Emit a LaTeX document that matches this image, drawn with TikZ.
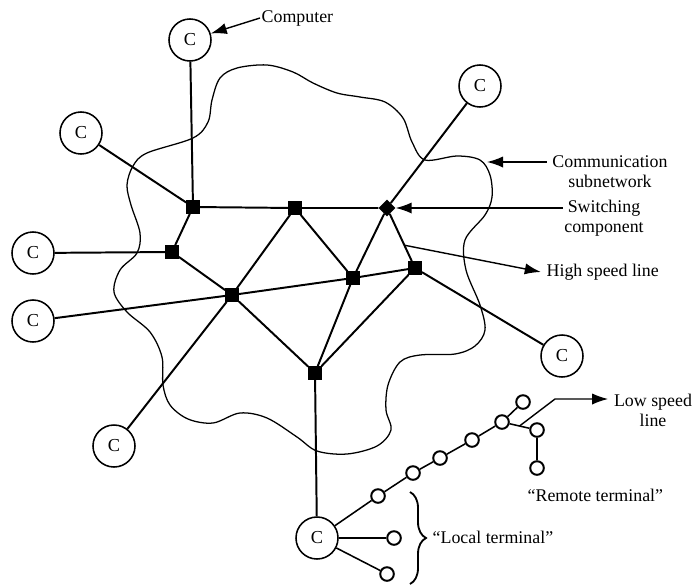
\documentclass[tikz,border=0pt]{standalone}
\usepackage{fontspec}
\setmainfont{Liberation Serif}
\usetikzlibrary{arrows.meta,shapes.geometric,calc,decorations.pathreplacing}
\tikzset{
  comp/.style={circle, draw, line width=1.1pt, minimum size=1.05cm, inner sep=0pt, fill=white, font=\fontsize{13}{15}\selectfont},
  switch/.style={rectangle, fill=black, minimum size=0.33cm, inner sep=0pt},
  switchd/.style={diamond, fill=black, minimum size=0.42cm, inner sep=0pt},
  term/.style={circle, draw, line width=1.4pt, minimum size=0.34cm, inner sep=0pt, fill=white},
  link/.style={line width=1.4pt},
  tlink/.style={line width=1.1pt},
  cloudline/.style={line width=0.9pt},
  lbl/.style={font=\fontsize{12.7}{14.2}\selectfont, align=center, inner sep=1pt},
  arrow/.style={line width=1pt, -{Latex[length=4mm,width=2.8mm]}},
}

\begin{document}
\begin{tikzpicture}[x=0.025cm, y=-0.025cm]
\useasboundingbox (0,0) rectangle (694,585);

% Communication subnetwork
\draw[cloudline] plot[smooth cycle, tension=0.55] coordinates {
  (147,153) (193,138) (208,122) (212,100) (220,78) (237,68) (267,65)
  (293,72) (313,83) (337,93) (360,97) (385,102) (403,118) (412,142)
  (425,160) (457,156) (480,160) (490,175) (492,197) (485,215) (465,240)
  (466,270) (480,305) (485,330) (475,346) (455,354) (420,355) (400,362)
  (388,385) (386,410) (391,430) (377,446) (347,454) (317,451) (297,437)
  (267,418) (240,413) (213,423) (188,419) (170,405) (163,385) (162,357)
  (150,332) (127,312) (114,292) (120,270) (137,253) (140,233) (131,205)
  (127,185) (133,166)};

% Computers
\node[comp] (c1) at (190,40) {C};
\node[comp] (c2) at (81,133) {C};
\node[comp] (c3) at (33,253) {C};
\node[comp] (c4) at (33,321) {C};
\node[comp] (c5) at (114,446) {C};
\node[comp] (c6) at (480,86) {C};
\node[comp] (c7) at (562,356) {C};
\node[comp] (c8) at (317,538) {C};

% Switching components
\node[switch] (sa) at (193,207) {};
\node[switch] (sb) at (295,208) {};
\node[switchd] (sd) at (387,208) {};
\node[switch] (se) at (172,252) {};
\node[switch] (sf) at (232,295) {};
\node[switch] (sg) at (353,278) {};
\node[switch] (sh) at (415,268) {};
\node[switch] (sj) at (315,373) {};

% High speed lines
\draw[link] (c1) -- (sa);
\draw[link] (c2) -- (sa);
\draw[link] (sa) -- (sb) -- (sd);
\draw[link] (sa) -- (se);
\draw[link] (c3) -- (se);
\draw[link] (se) -- (sf);
\draw[link] (c4) -- (sf) -- (sg) -- (sh) -- (c7);
\draw[link] (sb) -- (sf);
\draw[link] (sb) -- (sg);
\draw[link] (sd) -- (sg);
\draw[link] (sd) -- (sh);
\draw[link] (sf) -- (sj);
\draw[link] (sg) -- (sj);
\draw[link] (sh) -- (sj);
\draw[link] (c5) -- (sf);
\draw[link] (sd) -- (c6);
\draw[link] (sj) -- (c8);

% Terminals
\node[term] (t1) at (378,496) {};
\node[term] (t2) at (413,473) {};
\node[term] (t3) at (440,458) {};
\node[term] (t4) at (472,440) {};
\node[term] (t5) at (502,422) {};
\node[term] (t6) at (523,402) {};
\node[term] (r1) at (537,430) {};
\node[term] (r2) at (537,468) {};
\node[term] (l2) at (394,538) {};
\node[term] (l3) at (387,574) {};
\draw[tlink] (c8) -- (t1) -- (t2) -- (t3) -- (t4) -- (t5) -- (t6);
\draw[tlink] (t5) -- (r1) -- (r2);
\draw[tlink] (c8) -- (l2);
\draw[tlink] (c8) -- (l3);

% Labels
\node[lbl, anchor=west] (complbl) at (260,18) {Computer};
\draw[arrow] (complbl.west) -- (c1);

\node[lbl] (netlbl) at (610,172) {Communication\\subnetwork};
\coordinate (netpt) at (487,162);
\draw[arrow] ([xshift=-3pt]netlbl.west |- netpt) -- (netpt);

\node[lbl] (swlbl) at (604,218) {Switching\\component};
\draw[arrow] (swlbl.west |- sd) -- (sd);

\node[lbl, anchor=west] (hslbl) at (545,272) {High speed line};
\draw[arrow] ($(sd)!0.62!(sh)$) -- ([xshift=-3pt]hslbl.west);

\node[lbl] (lslbl) at (653,410) {Low speed\\line};
\coordinate (lsbend) at (555,399);
\draw[arrow] ($(t5)!0.5!(r1)$) -- (lsbend) -- ([xshift=-3pt]lslbl.west |- lsbend);

\node[lbl, anchor=west] (remlbl) at (526,495) {“Remote terminal”};

\draw[line width=1.3pt, decorate, decoration={brace, amplitude=0.4cm}] (410,492) -- (410,584);
\node[lbl, anchor=west] (loclbl) at (431,537) {“Local terminal”};
\end{tikzpicture}
\end{document}
